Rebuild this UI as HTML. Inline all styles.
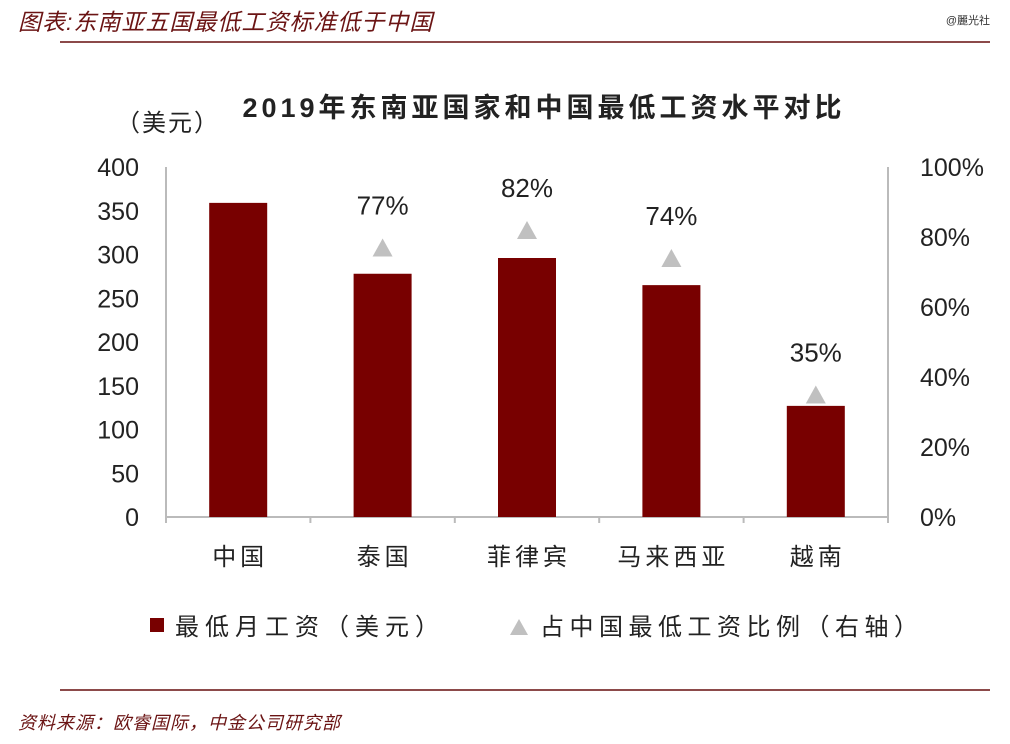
<!DOCTYPE html>
<html><head><meta charset="utf-8"><style>
body{margin:0;width:1010px;height:744px;background:#fff;overflow:hidden;position:relative;font-family:"Liberation Sans","Noto Sans CJK SC",sans-serif}
.t{position:absolute;white-space:nowrap}
</style></head><body>
<div class="t" style="left:18px;top:3px;font-size:23px;color:#6b1414;font-style:italic;letter-spacing:1px">图表:东南亚五国最低工资标准低于中国</div>
<div class="t" style="right:20px;top:12px;font-size:11px;color:#333">@麗光社</div>
<div style="position:absolute;left:60px;top:41px;width:930px;height:2px;background:#8c4a4a"></div>
<svg width="1010" height="744" style="position:absolute;left:0;top:0" id="chart">
<text x="544" y="117" text-anchor="middle" font-size="27" font-weight="bold" letter-spacing="4" fill="#222">2019年东南亚国家和中国最低工资水平对比</text>
<text x="116" y="131" font-size="24" letter-spacing="2" fill="#222">（美元）</text>
<g id="g"></g>
</svg>
<div style="position:absolute;left:60px;top:689px;width:930px;height:2px;background:#8c4a4a"></div>
<div class="t" style="left:18px;top:709px;font-size:18px;color:#6b1414;font-style:italic;letter-spacing:1px">资料来源：欧睿国际，中金公司研究部</div>
<script>
const categories=["中国","泰国","菲律宾","马来西亚","越南"];
const wages=[359,278,296,265,127];
const ratios=[null,77,82,74,35];
const leftTicks=[0,50,100,150,200,250,300,350,400];
const rightTicks=[0,20,40,60,80,100];
const NS="http://www.w3.org/2000/svg",g=document.getElementById('g');
const X0=166,X1=888,Y0=517,Y1=167;
const yL=v=>Y0-(v/400)*(Y0-Y1), yR=v=>Y0-(v/100)*(Y0-Y1);
const bw=(X1-X0)/categories.length, xc=i=>X0+bw*(i+0.5);
function mk(t,a,txt){const e=document.createElementNS(NS,t);for(const k in a)e.setAttribute(k,a[k]);if(txt!=null)e.textContent=txt;g.appendChild(e);return e;}
let e;
e=mk('line',{x1:X0,y1:Y1,x2:X0,y2:Y0,stroke:'#bbb','stroke-width':2});


e=mk('line',{x1:X1,y1:Y1,x2:X1,y2:Y0,stroke:'#bbb','stroke-width':2});


e=mk('line',{x1:X0,y1:Y0,x2:X1,y2:Y0,stroke:'#bbb','stroke-width':2});


for(let i=0;i<=categories.length;i++){e=mk('line',{x1:X0+bw*i,y1:Y0,x2:X0+bw*i,y2:Y0+6,stroke:'#bbb','stroke-width':2});

}
leftTicks.forEach(v=>{e=mk('text',{x:139,y:yL(v)+9,'text-anchor':'end','font-size':25,fill:'#222'},v);

});
rightTicks.forEach(v=>{e=mk('text',{x:920,y:yR(v)+9,'font-size':25,fill:'#222'},v+'%');

});
categories.forEach((c,i)=>{
e=mk('rect',{x:xc(i)-29,y:yL(wages[i]),width:58,height:Y0-yL(wages[i]),fill:'#780000'});


e=mk('text',{x:xc(i)+2,y:565,'text-anchor':'middle','font-size':24,'letter-spacing':4,fill:'#222'},c);


if(ratios[i]!=null){const y=yR(ratios[i]),x=xc(i);
e=mk('polygon',{points:`${x-10},${y+9} ${x+10},${y+9} ${x},${y-9}`,fill:'#c0c0c0'});


e=mk('text',{x:x,y:y-33,'text-anchor':'middle','font-size':26,fill:'#222'},ratios[i]+'%');

}
});
e=mk('rect',{x:150,y:618,width:14,height:14,fill:'#780000'});


e=mk('text',{x:175,y:635,'font-size':24,'letter-spacing':6,fill:'#222'},'最低月工资（美元）');


e=mk('polygon',{points:'510,635 528,635 519,619',fill:'#c0c0c0'});


e=mk('text',{x:540,y:635,'font-size':24,'letter-spacing':5.5,fill:'#222'},'占中国最低工资比例（右轴）');


</script>
</body></html>
